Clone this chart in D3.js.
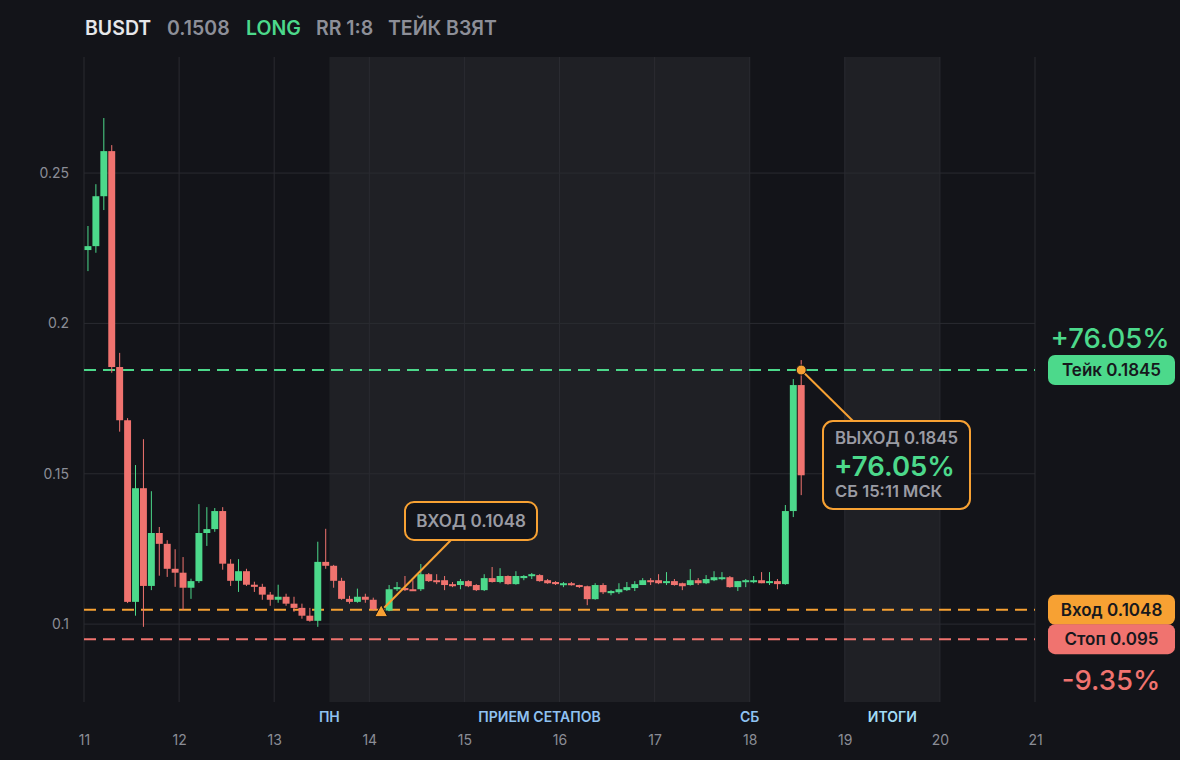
<!DOCTYPE html>
<html lang="ru">
<head>
<meta charset="UTF-8">
<title>BUSDT</title>
<script src="https://cdn.jsdelivr.net/npm/d3@7"></script>
<style>
  html, body { margin: 0; padding: 0; background: #131419; }
  body { width: 1180px; height: 760px; overflow: hidden; font-family: Inter, "Noto Sans", sans-serif; }
</style>
</head>
<body>
<div id="chart"></div>
<script>
// 2h candles starting at day 11 00:00
const startDay = 11;
const stepDays = 1 / 12;

const opens = [
  0.2244, 0.2257, 0.2423, 0.2573, 0.1855, 0.1678, 0.1074, 0.1452, 0.1127, 0.1303,
  0.1267, 0.1184, 0.1171, 0.1121, 0.1143, 0.1303, 0.1316, 0.1376, 0.1201, 0.1144,
  0.1176, 0.1131, 0.1124, 0.1098, 0.1081, 0.1091, 0.1068, 0.1054, 0.1028, 0.1011,
  0.1207, 0.1194, 0.1144, 0.1084, 0.1074, 0.1091, 0.1081, 0.1050, 0.1045, 0.1116,
  0.1120, 0.1116, 0.1116, 0.1166, 0.1146, 0.1146, 0.1133, 0.1130, 0.1143, 0.1130,
  0.1113, 0.1153, 0.1140, 0.1160, 0.1133, 0.1153, 0.1160, 0.1163, 0.1146, 0.1140,
  0.1133, 0.1136, 0.1130, 0.1126, 0.1083, 0.1130, 0.1103, 0.1106, 0.1113, 0.1120,
  0.1130, 0.1146, 0.1146, 0.1140, 0.1143, 0.1136, 0.1130, 0.1146, 0.1136, 0.1146,
  0.1150, 0.1156, 0.1123, 0.1140, 0.1140, 0.1146, 0.1140, 0.1143, 0.1133, 0.1376,
  0.1795
];
const highs = [
  0.2324, 0.2463, 0.2683, 0.2593, 0.1902, 0.1685, 0.1529, 0.1615, 0.1442, 0.1323,
  0.1279, 0.1249, 0.1223, 0.1151, 0.1399, 0.1389, 0.1386, 0.1389, 0.1216, 0.1216,
  0.1184, 0.1141, 0.1134, 0.1107, 0.1131, 0.1101, 0.1091, 0.1068, 0.1054, 0.1274,
  0.1317, 0.1197, 0.1154, 0.1094, 0.1118, 0.1101, 0.1088, 0.1055, 0.1130, 0.1140,
  0.1160, 0.1146, 0.1200, 0.1170, 0.1166, 0.1160, 0.1140, 0.1150, 0.1146, 0.1133,
  0.1166, 0.1190, 0.1186, 0.1162, 0.1176, 0.1163, 0.1170, 0.1166, 0.1150, 0.1143,
  0.1140, 0.1140, 0.1131, 0.1128, 0.1136, 0.1136, 0.1113, 0.1136, 0.1140, 0.1143,
  0.1153, 0.1153, 0.1166, 0.1173, 0.1150, 0.1138, 0.1183, 0.1153, 0.1163, 0.1176,
  0.1173, 0.1160, 0.1143, 0.1150, 0.1160, 0.1173, 0.1173, 0.1150, 0.1396, 0.1815,
  0.1878
];
const lows = [
  0.2174, 0.2235, 0.2377, 0.1836, 0.1640, 0.1070, 0.1028, 0.0991, 0.1113, 0.1161,
  0.1157, 0.1124, 0.1047, 0.1084, 0.1137, 0.1260, 0.1307, 0.1181, 0.1127, 0.1107,
  0.1127, 0.1107, 0.1081, 0.1061, 0.1071, 0.1061, 0.1041, 0.1018, 0.1008, 0.0991,
  0.1184, 0.1121, 0.1081, 0.1068, 0.1071, 0.1071, 0.1045, 0.1040, 0.1043, 0.1110,
  0.1110, 0.1110, 0.1110, 0.1140, 0.1133, 0.1113, 0.1123, 0.1116, 0.1123, 0.1110,
  0.1110, 0.1138, 0.1136, 0.1131, 0.1131, 0.1146, 0.1150, 0.1141, 0.1134, 0.1130,
  0.1123, 0.1128, 0.1120, 0.1063, 0.1081, 0.1100, 0.1096, 0.1100, 0.1110, 0.1110,
  0.1130, 0.1130, 0.1133, 0.1130, 0.1128, 0.1113, 0.1128, 0.1130, 0.1133, 0.1143,
  0.1146, 0.1121, 0.1110, 0.1123, 0.1136, 0.1136, 0.1130, 0.1116, 0.1131, 0.1356,
  0.1429
];
const closes = [
  0.2257, 0.2423, 0.2573, 0.1855, 0.1678, 0.1074, 0.1452, 0.1127, 0.1303, 0.1267,
  0.1184, 0.1171, 0.1121, 0.1143, 0.1303, 0.1316, 0.1376, 0.1201, 0.1144, 0.1176,
  0.1131, 0.1124, 0.1098, 0.1081, 0.1091, 0.1068, 0.1054, 0.1028, 0.1011, 0.1207,
  0.1194, 0.1144, 0.1084, 0.1074, 0.1091, 0.1081, 0.1050, 0.1045, 0.1116, 0.1123,
  0.1113, 0.1113, 0.1166, 0.1143, 0.1140, 0.1130, 0.1126, 0.1143, 0.1126, 0.1113,
  0.1153, 0.1140, 0.1160, 0.1133, 0.1160, 0.1160, 0.1166, 0.1143, 0.1136, 0.1133,
  0.1136, 0.1130, 0.1126, 0.1083, 0.1130, 0.1106, 0.1110, 0.1116, 0.1123, 0.1133,
  0.1146, 0.1140, 0.1136, 0.1143, 0.1130, 0.1126, 0.1146, 0.1136, 0.1150, 0.1156,
  0.1156, 0.1123, 0.1143, 0.1146, 0.1146, 0.1136, 0.1143, 0.1133, 0.1376, 0.1795,
  0.1495
];

const dayTicks = [11, 12, 13, 14, 15, 16, 17, 18, 19, 20, 21];
const priceTicks = [0.1, 0.15, 0.2, 0.25];

const takePrice = 0.1845, entryPrice = 0.1048, stopPrice = 0.095;
const entryDay = 14 + 3 / 24, exitDay = 18 + 13 / 24;

const bands = [
  { from: 13.58, to: 18, label: "ПРИЕМ СЕТАПОВ", start: "ПН", end: "СБ" },
  { from: 19, to: 20, label: "ИТОГИ" }
];

const header = [
  { text: "BUSDT", color: "#e6e7ea", x: 85 },
  { text: "0.1508", color: "#8d8f98", x: 167 },
  { text: "LONG", color: "#4cd98b", x: 246 },
  { text: "RR 1:8", color: "#8d8f98", x: 316 },
  { text: "ТЕЙК ВЗЯТ", color: "#8d8f98", x: 388 }
];

const green = "#4cd98b", red = "#f0736f", orange = "#f7a133";
const W = 1180, H = 760;
const plot = { left: 84, right: 1035, top: 57, bottom: 702 };

const candles = opens.map((o, i) => ({
  t: startDay + i * stepDays, o: o, h: highs[i], l: lows[i], c: closes[i]
}));

const x = d3.scaleLinear().domain([11, 21]).range([plot.left, plot.right]);
const y = d3.scaleLinear().domain([0.0741, 0.2886]).range([plot.bottom, plot.top]);

const svg = d3.select("#chart").append("svg")
  .attr("width", W).attr("height", H)
  .style("font-family", "Inter, 'Noto Sans', sans-serif");

svg.append("rect").attr("width", W).attr("height", H).attr("fill", "#131419");

// shaded sessions
svg.selectAll(".band").data(bands).enter().append("rect")
  .attr("x", d => x(d.from)).attr("width", d => x(d.to) - x(d.from))
  .attr("y", plot.top).attr("height", plot.bottom - plot.top)
  .attr("fill", "#1f2025");

// grid
svg.append("g").selectAll("line").data(dayTicks).enter().append("line")
  .attr("x1", d => x(d)).attr("x2", d => x(d))
  .attr("y1", plot.top).attr("y2", plot.bottom)
  .attr("stroke", "#2a2b31").attr("stroke-width", 1);
svg.append("g").selectAll("line").data(priceTicks).enter().append("line")
  .attr("x1", plot.left).attr("x2", plot.right)
  .attr("y1", d => y(d)).attr("y2", d => y(d))
  .attr("stroke", "#2a2b31").attr("stroke-width", 1);

// axes
const xAxis = svg.append("g")
  .attr("transform", "translate(0," + (plot.bottom + 30) + ")")
  .call(d3.axisBottom(x).tickValues(dayTicks).tickSize(0).tickFormat(d3.format("d")));
xAxis.select(".domain").remove();
xAxis.selectAll("text").attr("fill", "#8b8d96").style("font-size", "14px")
  .style("font-family", "Inter, sans-serif");

const yAxis = svg.append("g")
  .attr("transform", "translate(" + (plot.left - 12) + ",0)")
  .call(d3.axisLeft(y).tickValues(priceTicks).tickSize(0).tickFormat(d => String(d)));
yAxis.select(".domain").remove();
yAxis.selectAll("text").attr("fill", "#8b8d96").style("font-size", "14px")
  .style("font-family", "Inter, sans-serif");

// session labels
const bandLabels = [];
bands.forEach(b => {
  bandLabels.push({ x: (b.from + b.to) / 2, text: b.label });
  if (b.start) bandLabels.push({ x: b.from, text: b.start });
  if (b.end) bandLabels.push({ x: b.to, text: b.end });
});
svg.selectAll(".blabel").data(bandLabels).enter().append("text")
  .attr("x", d => x(d.x)).attr("y", 722)
  .attr("text-anchor", "middle")
  .attr("fill", d => d.text === "ИТОГИ" ? "#a3dcf5" : "#8fc2f2")
  .style("font-size", "14px").style("font-weight", 600)
  .text(d => d.text);

// level lines
const levels = [
  { p: takePrice, color: green },
  { p: entryPrice, color: orange },
  { p: stopPrice, color: red }
];
svg.selectAll(".level").data(levels).enter().append("line")
  .attr("x1", plot.left).attr("x2", plot.right)
  .attr("y1", d => y(d.p)).attr("y2", d => y(d.p))
  .attr("stroke", d => d.color).attr("stroke-width", 2)
  .attr("stroke-dasharray", "12,7");

// candles
const cw = x(startDay + stepDays) - x(startDay);
const cg = svg.append("g");
cg.selectAll(".wick").data(candles).enter().append("line")
  .attr("x1", d => x(d.t + stepDays / 2)).attr("x2", d => x(d.t + stepDays / 2))
  .attr("y1", d => y(d.h)).attr("y2", d => y(d.l))
  .attr("stroke", d => d.c >= d.o ? green : red).attr("stroke-width", 1);
cg.selectAll(".body").data(candles).enter().append("rect")
  .attr("x", d => x(d.t) + 0.5).attr("width", cw - 1)
  .attr("y", d => y(Math.max(d.o, d.c)))
  .attr("height", d => Math.max(2, Math.abs(y(d.o) - y(d.c))))
  .attr("fill", d => d.c >= d.o ? green : red);

// entry marker and callout
const ex = x(entryDay), ey = y(entryPrice);
svg.append("line").attr("x1", ex + 3).attr("y1", ey - 2).attr("x2", 451).attr("y2", 540)
  .attr("stroke", orange).attr("stroke-width", 2);
svg.append("path")
  .attr("d", "M" + ex + "," + (ey - 5) + "L" + (ex + 6.5) + "," + (ey + 7) + "L" + (ex - 6.5) + "," + (ey + 7) + "Z")
  .attr("fill", orange).attr("stroke", "#131419").attr("stroke-width", 1);
svg.append("rect").attr("x", 405).attr("y", 502).attr("width", 132).attr("height", 38)
  .attr("rx", 9).attr("fill", "#131419").attr("stroke", orange).attr("stroke-width", 2);
svg.append("text").attr("x", 471).attr("y", 527).attr("text-anchor", "middle")
  .attr("fill", "#9a9ba3").style("font-size", "17px").style("font-weight", 600)
  .text("ВХОД " + entryPrice);

// exit marker and callout
const xx = x(exitDay), xy = y(takePrice);
svg.append("line").attr("x1", xx).attr("y1", xy).attr("x2", 853).attr("y2", 421)
  .attr("stroke", orange).attr("stroke-width", 2);
svg.append("rect").attr("x", 823).attr("y", 421).attr("width", 147).attr("height", 88)
  .attr("rx", 10).attr("fill", "#131419").attr("stroke", orange).attr("stroke-width", 2);
svg.append("circle").attr("cx", xx).attr("cy", xy).attr("r", 5)
  .attr("fill", orange).attr("stroke", "#131419").attr("stroke-width", 1);
svg.append("text").attr("x", 835).attr("y", 444).attr("fill", "#9a9ba3")
  .style("font-size", "16.8px").style("font-weight", 600).text("ВЫХОД " + takePrice);
svg.append("text").attr("x", 834).attr("y", 476).attr("fill", green)
  .style("font-size", "27.5px").style("font-weight", 600).text("+76.05%");
svg.append("text").attr("x", 835).attr("y", 497).attr("fill", "#9a9ba3")
  .style("font-size", "16.6px").style("font-weight", 600).text("СБ 15:11 МСК");

// right-hand tags
const tags = [
  { p: takePrice, text: "Тейк " + takePrice, color: green },
  { p: entryPrice, text: "Вход " + entryPrice, color: orange },
  { p: stopPrice, text: "Стоп " + stopPrice, color: red }
];
const tg = svg.selectAll(".tag").data(tags).enter().append("g")
  .attr("transform", d => "translate(1048," + (y(d.p) - 15) + ")");
tg.append("rect").attr("width", 127).attr("height", 30).attr("rx", 7)
  .attr("fill", d => d.color);
tg.append("text").attr("x", 63.5).attr("y", 21).attr("text-anchor", "middle")
  .attr("fill", "#17181d").style("font-size", "17px").style("font-weight", 600)
  .text(d => d.text);

svg.append("text").attr("x", 1110).attr("y", 348).attr("text-anchor", "middle")
  .attr("fill", green).style("font-size", "27.5px").style("font-weight", 500).text("+76.05%");
svg.append("text").attr("x", 1111).attr("y", 690).attr("text-anchor", "middle")
  .attr("fill", red).style("font-size", "27.5px").style("font-weight", 500).text("-9.35%");

// header
svg.selectAll(".hdr").data(header).enter().append("text")
  .attr("x", d => d.x).attr("y", 35)
  .attr("fill", d => d.color).style("font-size", "19.5px").style("font-weight", 600)
  .text(d => d.text);
</script>
</body>
</html>
